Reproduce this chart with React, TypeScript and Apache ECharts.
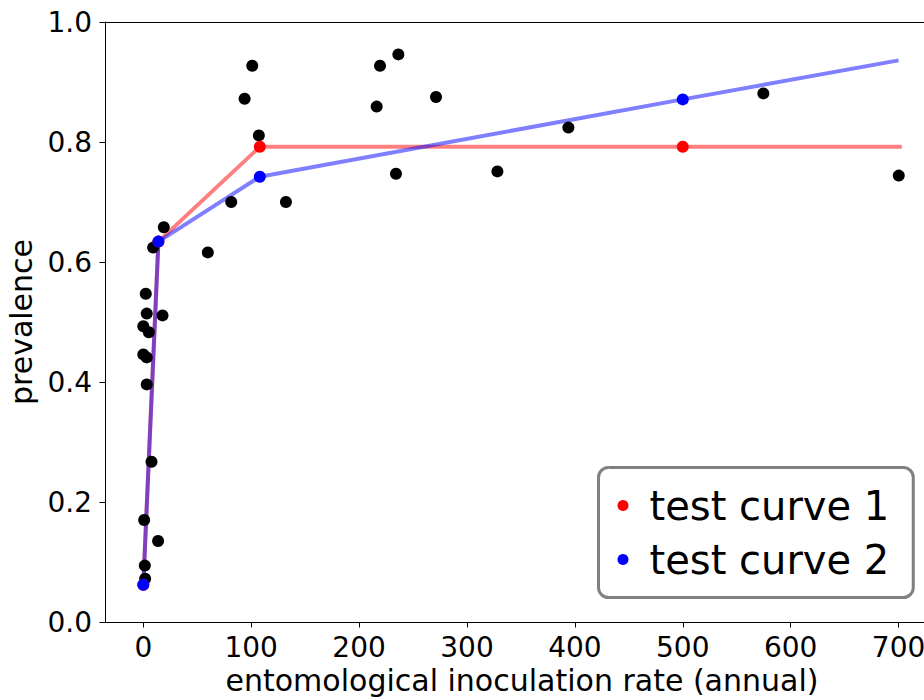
import React, { useEffect, useRef } from "react";
import * as echarts from "echarts";

// observed data (entomological inoculation rate vs prevalence)
const observedEIR = [19, 9.1, 2.3, 3.2, 17.8, 0, 5.1, 0, 3.2, 3.2, 7.6, 0.8, 13.7, 1.4, 1.7, 59.8, 81.5, 93.9, 101, 107.1, 132.2, 216.3, 219.4, 234.2, 236.4, 271.3, 328.2, 394, 574.7, 700.2];
const observedPrev = [0.658, 0.624, 0.547, 0.514, 0.511, 0.493, 0.483, 0.446, 0.441, 0.396, 0.267, 0.17, 0.135, 0.094, 0.072, 0.616, 0.7, 0.872, 0.927, 0.811, 0.7, 0.859, 0.927, 0.747, 0.946, 0.875, 0.751, 0.824, 0.881, 0.744];

// test curve 1
const curve1X = [0, 14, 108, 500];
const curve1Y = [0.062, 0.634, 0.792, 0.792];
const curve1LineX = [0, 14, 108, 500, 703];
const curve1LineY = [0.062, 0.634, 0.792, 0.792, 0.792];

// test curve 2
const curve2X = [0, 14, 108, 500];
const curve2Y = [0.062, 0.634, 0.742, 0.871];
const curve2LineX = [0, 14, 108, 500, 700];
const curve2LineY = [0.062, 0.634, 0.742, 0.871, 0.936];

const xTicks = [0, 100, 200, 300, 400, 500, 600, 700];
const seriesNames = ["test curve 1", "test curve 2"];

const zip = (xs: number[], ys: number[]) => xs.map((x, i) => [x, ys[i]]);

const FONT = "DejaVu Sans";

export default function App() {
  const ref = useRef<HTMLDivElement>(null);
  useEffect(() => {
    document.body.style.margin = "0";
    const chart = echarts.init(ref.current!, null, { renderer: "svg" });
    const axisLineStyle = { color: "#000", width: 1 };
    chart.setOption({
      animation: false,
      backgroundColor: "#fff",
      grid: { left: 105, top: 22, right: -15, bottom: 78, outerBoundsMode: "none", containLabel: false },
      xAxis: [
        {
          type: "value",
          min: -35.5,
          max: 737.5,
          name: "entomological inoculation rate (annual)",
          nameLocation: "middle",
          nameGap: 42,
          nameTextStyle: { fontFamily: FONT, fontSize: 30, color: "#000" },
          axisLine: { show: true, onZero: false, lineStyle: axisLineStyle },
          axisTick: { show: true, inside: false, length: 5.5, customValues: xTicks, lineStyle: axisLineStyle },
          axisLabel: { show: true, customValues: xTicks, margin: 11, fontFamily: FONT, fontSize: 28, color: "#000" },
          splitLine: { show: false },
        },
        {
          type: "value",
          position: "top",
          min: -35.5,
          max: 737.5,
          axisLine: { show: true, onZero: false, lineStyle: axisLineStyle },
          axisTick: { show: false },
          axisLabel: { show: false },
          splitLine: { show: false },
        },
      ],
      yAxis: {
        type: "value",
        min: 0,
        max: 1,
        interval: 0.2,
        name: "prevalence",
        nameLocation: "middle",
        nameGap: 69,
        nameTextStyle: { fontFamily: FONT, fontSize: 30, color: "#000" },
        axisLine: { show: true, onZero: false, lineStyle: axisLineStyle },
        axisTick: { show: true, inside: false, length: 5.5, lineStyle: axisLineStyle },
        axisLabel: {
          margin: 13,
          fontFamily: FONT,
          fontSize: 28,
          color: "#000",
          formatter: (v: number) => v.toFixed(1),
        },
        splitLine: { show: false },
      },
      legend: {
        data: seriesNames,
        orient: "vertical",
        left: 598.5,
        top: 467.5,
        padding: [16, 24, 16, 19],
        itemGap: 10,
        icon: "circle",
        itemWidth: 11,
        itemHeight: 11,
        backgroundColor: "#fff",
        borderColor: "#808080",
        borderWidth: 3,
        borderRadius: 10,
        textStyle: {
          fontFamily: FONT,
          fontSize: 40,
          color: "#000",
          lineHeight: 44,
          padding: [0, 0, 0, 16],
        },
      },
      series: [
        {
          type: "line",
          data: zip(curve1LineX, curve1LineY),
          showSymbol: false,
          symbol: "none",
          lineStyle: { color: "#ff0000", width: 4, opacity: 0.5 },
          z: 2,
          silent: true,
        },
        {
          type: "line",
          data: zip(curve2LineX, curve2LineY),
          showSymbol: false,
          symbol: "none",
          lineStyle: { color: "#0000ff", width: 4, opacity: 0.5 },
          z: 2,
          silent: true,
        },
        {
          type: "scatter",
          name: "observed",
          data: zip(observedEIR, observedPrev),
          symbolSize: 12,
          itemStyle: { color: "#000", opacity: 1 },
          z: 3,
        },
        {
          type: "scatter",
          name: seriesNames[0],
          data: zip(curve1X, curve1Y),
          symbolSize: 12,
          itemStyle: { color: "#ff0000", opacity: 1 },
          z: 4,
        },
        {
          type: "scatter",
          name: seriesNames[1],
          data: zip(curve2X, curve2Y),
          symbolSize: 12,
          itemStyle: { color: "#0000ff", opacity: 1 },
          z: 5,
        },
      ],
    });
    return () => chart.dispose();
  }, []);
  return <div ref={ref} style={{ width: 924, height: 700 }} />;
}
